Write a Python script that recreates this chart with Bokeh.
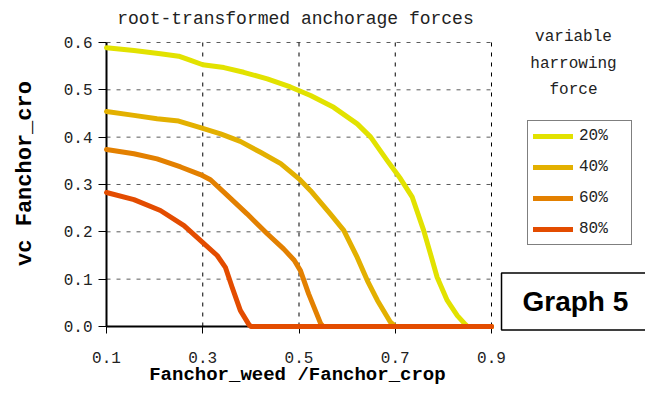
import math
from bokeh.plotting import figure
from bokeh.models import (Range1d, LinearAxis, FixedTicker, Legend, LegendItem, Label)
from bokeh.embed import file_html
from bokeh.resources import INLINE

# ---- data ----
series_names = ["20%", "40%", "60%", "80%"]
series_colors = ["#e2e200", "#e3b000", "#e38000", "#e34c00"]

s20_x = [0.10, 0.157, 0.212, 0.25, 0.275, 0.30, 0.344, 0.385, 0.434, 0.482, 0.524, 0.572, 0.621, 0.649, 0.683, 0.711, 0.735, 0.759, 0.773, 0.787, 0.808, 0.829, 0.846, 0.85, 0.90]
s20_y = [0.589, 0.583, 0.576, 0.571, 0.562, 0.553, 0.547, 0.537, 0.523, 0.506, 0.488, 0.463, 0.428, 0.400, 0.351, 0.312, 0.274, 0.203, 0.154, 0.104, 0.055, 0.023, 0.004, 0.0, 0.0]

s40_x = [0.10, 0.157, 0.205, 0.25, 0.295, 0.337, 0.378, 0.420, 0.462, 0.50, 0.524, 0.565, 0.593, 0.621, 0.642, 0.663, 0.690, 0.70, 0.90]
s40_y = [0.454, 0.446, 0.439, 0.434, 0.420, 0.407, 0.391, 0.368, 0.344, 0.312, 0.287, 0.238, 0.203, 0.146, 0.097, 0.055, 0.009, 0.0, 0.0]

s60_x = [0.10, 0.157, 0.205, 0.254, 0.295, 0.316, 0.351, 0.392, 0.434, 0.468, 0.49, 0.503, 0.520, 0.545, 0.55, 0.90]
s60_y = [0.374, 0.365, 0.354, 0.337, 0.321, 0.310, 0.277, 0.238, 0.196, 0.164, 0.140, 0.118, 0.069, 0.006, 0.0, 0.0]

s80_x = [0.10, 0.157, 0.212, 0.261, 0.295, 0.330, 0.347, 0.361, 0.378, 0.396, 0.40, 0.90]
s80_y = [0.283, 0.268, 0.245, 0.213, 0.182, 0.150, 0.125, 0.083, 0.034, 0.004, 0.0, 0.0]

x_ticks = [0.1, 0.3, 0.5, 0.7, 0.9]
x_tick_labels = ["0.1", "0.3", "0.5", "0.7", "0.9"]
y_ticks = [0.0, 0.1, 0.2, 0.3, 0.4, 0.5, 0.6]
y_tick_labels = ["0.0", "0.1", "0.2", "0.3", "0.4", "0.5", "0.6"]

title_text = "root-transformed anchorage forces"
x_label_text = "Fanchor_weed /Fanchor_crop"
y_label_text = "vc Fanchor_cro"
legend_title_lines = ["variable", "harrowing", "force"]
graph_text = "Graph 5"

MONO = "Liberation Mono"

# frame covers the whole canvas; axes are placed at fixed data locations
X0, X1 = -0.1203, 1.2200
Y0, Y1 = -0.1289, 0.6887

p = figure(width=645, height=387, output_backend="svg", toolbar_location=None,
           x_range=Range1d(X0, X1), y_range=Range1d(Y0, Y1),
           x_axis_location=None, y_axis_location=None,
           min_border=0, min_border_left=0, min_border_right=0,
           min_border_top=0, min_border_bottom=0)
p.outline_line_color = None
p.background_fill_color = "white"
p.border_fill_color = "white"
p.xgrid.visible = False
p.ygrid.visible = False

# dashed grid drawn from the tick values
gy = y_ticks[1:]
p.segment(x0=[x_ticks[0]] * len(gy), y0=gy, x1=[x_ticks[-1]] * len(gy), y1=gy,
          line_color="#5a5a5a", line_width=1, line_dash="4 6")
gx = x_ticks[1:]
p.segment(x0=gx, y0=[y_ticks[0]] * len(gx), x1=gx, y1=[y_ticks[-1]] * len(gx),
          line_color="black", line_width=1, line_dash="4 6")

# axes
xaxis = LinearAxis(ticker=FixedTicker(ticks=x_ticks), fixed_location=y_ticks[0],
                   bounds=(x_ticks[0], x_ticks[-1]),
                   major_label_overrides={t: l for t, l in zip(x_ticks, x_tick_labels)})
xaxis.axis_line_width = 2
xaxis.axis_line_color = "black"
xaxis.major_tick_out = 7
xaxis.major_tick_in = 0
xaxis.major_tick_line_color = "black"
xaxis.minor_tick_line_color = None
xaxis.major_label_standoff = 19
xaxis.major_label_text_font = MONO
xaxis.major_label_text_font_size = "16px"
xaxis.major_label_text_color = "#222222"
p.add_layout(xaxis, "below")

yaxis = LinearAxis(ticker=FixedTicker(ticks=y_ticks), fixed_location=x_ticks[0],
                   bounds=(y_ticks[0], y_ticks[-1]),
                   major_label_overrides={t: l for t, l in zip(y_ticks, y_tick_labels)})
yaxis.axis_line_width = 2
yaxis.axis_line_color = "black"
yaxis.major_tick_out = 8
yaxis.major_tick_in = 0
yaxis.major_tick_line_color = "black"
yaxis.minor_tick_line_color = None
yaxis.major_label_standoff = 6
yaxis.major_label_text_font = MONO
yaxis.major_label_text_font_size = "16px"
yaxis.major_label_text_color = "#222222"
p.add_layout(yaxis, "left")

# lines (drawn over the axes, as in the reference)
renderers = []
for xs, ys, c in zip([s20_x, s40_x, s60_x, s80_x], [s20_y, s40_y, s60_y, s80_y], series_colors):
    r = p.line(xs, ys, line_color=c, line_width=5, line_cap="round", line_join="round",
               level="overlay")
    renderers.append(r)

# legend
items = [LegendItem(label=n, renderers=[r]) for n, r in zip(series_names, renderers)]
legend = Legend(items=items, location=(527, 142), margin=0, padding=5,
                glyph_width=40, glyph_height=20, label_height=20, label_width=47,
                label_standoff=6, spacing=11,
                border_line_color="black", border_line_width=1,
                label_text_font=MONO, label_text_font_size="16px",
                label_text_color="#222222", background_fill_alpha=1.0)
p.add_layout(legend)

# texts
p.add_layout(Label(x=0.4927, y=0.6486, text=title_text, text_align="center", text_baseline="middle",
                   text_font=MONO, text_font_size="18px", text_color="#222222"))
for line_text, yy in zip(legend_title_lines, [0.6106, 0.5535, 0.4986]):
    p.add_layout(Label(x=1.0704, y=yy, text=line_text, text_align="center", text_baseline="middle",
                       text_font=MONO, text_font_size="16px", text_color="#222222"))
p.add_layout(Label(x=0.4967, y=-0.1025, text=x_label_text, text_align="center", text_baseline="middle",
                   text_font=MONO, text_font_size="19px", text_font_style="bold", text_color="black"))
p.add_layout(Label(x=-0.0683, y=0.3232, text=y_label_text, text_align="center", text_baseline="middle",
                   angle=math.pi / 2, text_font=MONO, text_font_size="22px", text_font_style="bold",
                   text_color="black"))
p.add_layout(Label(x=0.9208, y=0.0528, text=graph_text, text_align="left", text_baseline="middle",
                   text_font="Liberation Sans", text_font_size="28px", text_font_style="bold",
                   text_color="black", border_line_color="black", border_line_width=1.5,
                   background_fill_color="white", padding=(21, 40, 13, 13)))

open("out.html", "w").write(file_html(p, INLINE))
